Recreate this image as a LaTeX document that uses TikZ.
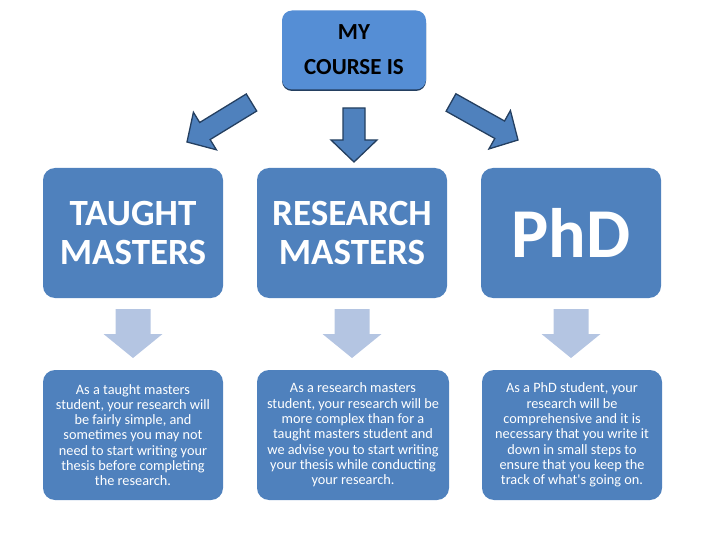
\documentclass[tikz,border=0pt]{standalone}
\usepackage{fontspec}
\setmainfont{Carlito}
\usetikzlibrary{calc}

\definecolor{boxblue}{HTML}{4F81BD}
\definecolor{topblue}{HTML}{558ED5}
\definecolor{darkline}{HTML}{243F60}
\definecolor{paleblue}{HTML}{B4C5E2}

% block arrow: style, tail, tip, shaft half width, head half width, head length
\newcommand{\blockarrow}[6]{%
  \coordinate (neck) at ($(#3)!#6!(#2)$);
  \filldraw[#1] ($(#2)!#4!90:(#3)$) -- ($(neck)!#4!90:(#3)$)
    -- ($(neck)!#5!90:(#3)$) -- (#3) -- ($(neck)!#5!-90:(#3)$)
    -- ($(neck)!#4!-90:(#3)$) -- ($(#2)!#4!-90:(#3)$) -- cycle;
}

\begin{document}
\begin{tikzpicture}[x=1pt,y=-1pt,
    top box/.style={rectangle,rounded corners=10pt,fill=topblue,inner sep=0pt,
      minimum width=144pt,minimum height=79pt,align=center,
      font=\fontsize{23}{35}\selectfont\bfseries},
    level box/.style={rectangle,rounded corners=12pt,fill=boxblue,inner sep=0pt,
      minimum height=130pt,align=center,text=white,
      font=\fontsize{37}{39}\selectfont\bfseries},
    note box/.style={rectangle,rounded corners=12pt,fill=boxblue,inner sep=0pt,
      minimum height=130pt,align=center,text=white,
      font=\fontsize{14.3}{15.3}\selectfont},
    big arrow/.style={fill=boxblue,draw=darkline,line width=1.3pt,line join=miter},
    pale arrow/.style={fill=paleblue,draw=none}]

  \useasboundingbox (0,0) rectangle (707,540);

  % top
  \fill[darkline,rounded corners=10pt] (282,13) rectangle (426,91);
  \node[top box] (course) at (354,50) {MY\\COURSE IS};

  % kinds of course
  \node[level box,minimum width=180pt] (taught) at (133,233) {TAUGHT\\MASTERS};
  \node[level box,minimum width=190pt] (research) at (352,233) {RESEARCH\\MASTERS};
  \node[level box,minimum width=180pt,font=\fontsize{70}{70}\selectfont\bfseries]
    (phd) at (571,233) {PhD};

  % notes
  \node[note box,minimum width=180pt] (taughtnote) at (133,435)
    {As a taught masters\\student, your research will\\be fairly simple, and\\sometimes you may not\\need to start writing your\\thesis before completing\\the research.};
  \node[note box,minimum width=192pt] (researchnote) at (353,435)
    {As a research masters\\student, your research will be\\more complex than for a\\taught masters student and\\we advise you to start writing\\your thesis while conducting\\your research.};
  \node[note box,minimum width=180pt] (phdnote) at (572,435)
    {As a PhD student, your\\research will be\\comprehensive and it is\\necessary that you write it\\down in small  steps to\\ensure that you keep the\\track of what\textquotesingle s going on.};

  % arrows from the top box
  \coordinate (ltail) at (251.5,102.5);
  \coordinate (ltip) at (187,142);
  \coordinate (mtail) at (354,108);
  \coordinate (mtip) at (354,162);
  \coordinate (rtail) at (451,102.5);
  \coordinate (rtip) at (518,140);
  \blockarrow{big arrow}{ltail}{ltip}{10pt}{22pt}{21pt}
  \blockarrow{big arrow}{mtail}{mtip}{11pt}{23pt}{22pt}
  \blockarrow{big arrow}{rtail}{rtip}{10pt}{22pt}{21pt}

  % arrows down to the notes
  \coordinate (t1) at (133,309);
  \coordinate (t2) at (133,358);
  \coordinate (r1) at (352,309);
  \coordinate (r2) at (352,358);
  \coordinate (p1) at (571,309);
  \coordinate (p2) at (571,358);
  \blockarrow{pale arrow}{t1}{t2}{17.5pt}{29.5pt}{24pt}
  \blockarrow{pale arrow}{r1}{r2}{17.5pt}{29.5pt}{24pt}
  \blockarrow{pale arrow}{p1}{p2}{17.5pt}{29.5pt}{24pt}
\end{tikzpicture}
\end{document}
